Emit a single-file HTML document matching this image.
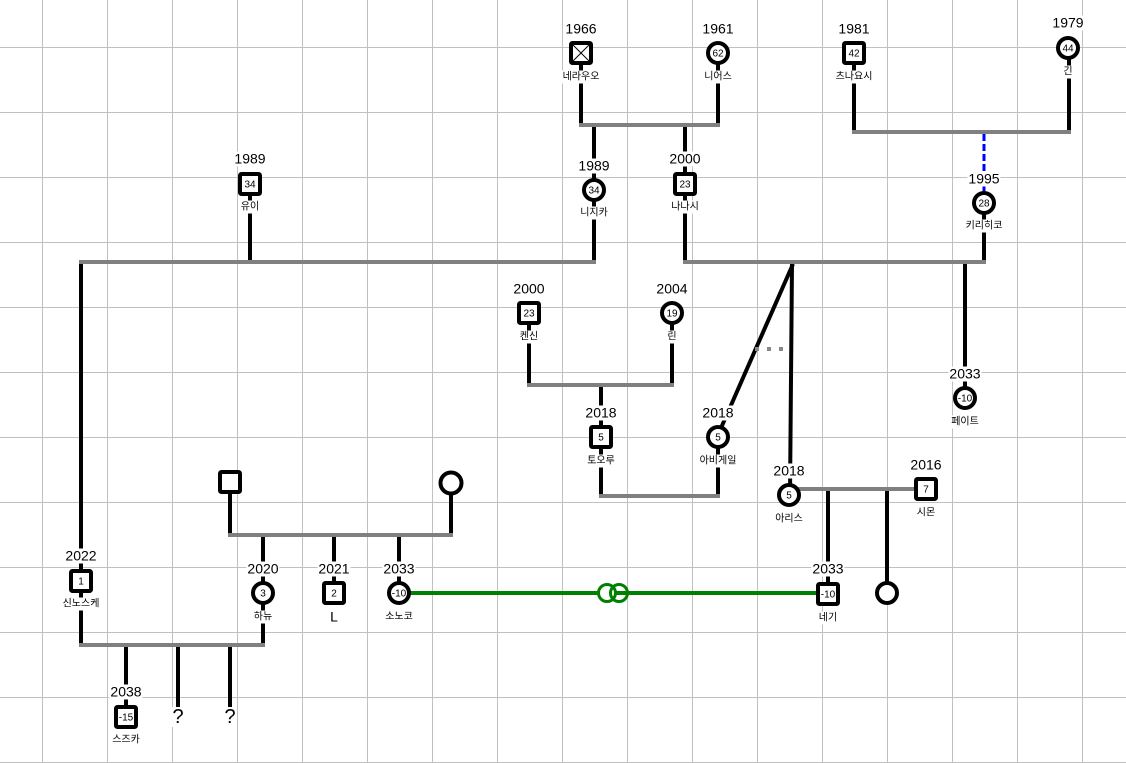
<!DOCTYPE html>
<html><head><meta charset="utf-8">
<style>
html,body{margin:0;padding:0}
body{width:1126px;height:763px;overflow:hidden;background:#fff;position:relative;font-family:"Liberation Sans","Noto Sans CJK KR",sans-serif;color:#000}
svg{position:absolute;left:0;top:0}
.y{position:absolute;font-size:14px;line-height:15px;background:#fff;transform:translate(-50%,-50%);padding:0 1px;white-space:nowrap}
.n{position:absolute;font-size:10px;line-height:13px;background:#fff;transform:translate(-50%,-50%);padding:0 1px;white-space:nowrap;font-family:"Liberation Sans","Noto Sans CJK KR",sans-serif}
.q{position:absolute;font-size:20px;line-height:20px;background:#fff;transform:translate(-50%,-50%);padding:0 1px}
</style></head><body>
<svg width="1126" height="763" viewBox="0 0 1126 763">
<g stroke="#c0c0c0" stroke-width="1">
<line x1="42.5" y1="0" x2="42.5" y2="763"/><line x1="107.5" y1="0" x2="107.5" y2="763"/><line x1="172.5" y1="0" x2="172.5" y2="763"/><line x1="237.5" y1="0" x2="237.5" y2="763"/><line x1="302.5" y1="0" x2="302.5" y2="763"/><line x1="367.5" y1="0" x2="367.5" y2="763"/><line x1="432.5" y1="0" x2="432.5" y2="763"/><line x1="497.5" y1="0" x2="497.5" y2="763"/><line x1="562.5" y1="0" x2="562.5" y2="763"/><line x1="627.5" y1="0" x2="627.5" y2="763"/><line x1="692.5" y1="0" x2="692.5" y2="763"/><line x1="757.5" y1="0" x2="757.5" y2="763"/><line x1="822.5" y1="0" x2="822.5" y2="763"/><line x1="887.5" y1="0" x2="887.5" y2="763"/><line x1="952.5" y1="0" x2="952.5" y2="763"/><line x1="1017.5" y1="0" x2="1017.5" y2="763"/><line x1="1082.5" y1="0" x2="1082.5" y2="763"/>
<line x1="0" y1="47.5" x2="1126" y2="47.5"/><line x1="0" y1="112.5" x2="1126" y2="112.5"/><line x1="0" y1="177.5" x2="1126" y2="177.5"/><line x1="0" y1="242.5" x2="1126" y2="242.5"/><line x1="0" y1="307.5" x2="1126" y2="307.5"/><line x1="0" y1="372.5" x2="1126" y2="372.5"/><line x1="0" y1="437.5" x2="1126" y2="437.5"/><line x1="0" y1="502.5" x2="1126" y2="502.5"/><line x1="0" y1="567.5" x2="1126" y2="567.5"/><line x1="0" y1="632.5" x2="1126" y2="632.5"/><line x1="0" y1="697.5" x2="1126" y2="697.5"/><line x1="0" y1="762.5" x2="1126" y2="762.5"/>
</g>
<!-- black lines -->
<g stroke="#000" stroke-width="4" fill="none">
<line x1="581" y1="53" x2="581" y2="126"/><line x1="718" y1="53" x2="718" y2="126"/>
<line x1="594" y1="125" x2="594" y2="262"/><line x1="685" y1="125" x2="685" y2="262"/>
<line x1="854" y1="53" x2="854" y2="132"/><line x1="1069" y1="48" x2="1069" y2="132"/>
<line x1="250" y1="184" x2="250" y2="262"/>
<line x1="984" y1="203" x2="984" y2="262"/>
<line x1="81" y1="262" x2="81" y2="645"/>
<line x1="965" y1="262" x2="965" y2="398"/>
<line x1="793" y1="264" x2="721" y2="428"/>
<line x1="792" y1="263" x2="790" y2="495"/>
<line x1="529" y1="313" x2="529" y2="385"/><line x1="672" y1="313" x2="672" y2="385"/>
<line x1="601" y1="385" x2="601" y2="496"/><line x1="718" y1="437" x2="718" y2="496"/>
<line x1="828" y1="489" x2="828" y2="594"/><line x1="887" y1="489" x2="887" y2="593"/>
<line x1="230" y1="482" x2="230" y2="535"/><line x1="451" y1="483" x2="451" y2="535"/>
<line x1="263" y1="535" x2="263" y2="645"/><line x1="334" y1="535" x2="334" y2="593"/><line x1="399" y1="535" x2="399" y2="593"/>
<line x1="126" y1="645" x2="126" y2="717"/><line x1="178" y1="645" x2="178" y2="710"/><line x1="230" y1="645" x2="230" y2="710"/>
</g>
<!-- blue dashed -->
<line x1="984" y1="134" x2="984" y2="195" stroke="#0000ff" stroke-width="3" stroke-dasharray="7 3"/>
<!-- gray couple lines -->
<g stroke="#808080" stroke-width="4">
<line x1="579" y1="125" x2="720" y2="125"/>
<line x1="852" y1="132" x2="1071" y2="132"/>
<line x1="79" y1="262" x2="596" y2="262"/>
<line x1="683" y1="262" x2="986" y2="262"/>
<line x1="527" y1="385" x2="674" y2="385"/>
<line x1="599" y1="496" x2="720" y2="496"/>
<line x1="789" y1="489" x2="926" y2="489"/>
<line x1="228" y1="535" x2="453" y2="535"/>
<line x1="79" y1="645" x2="265" y2="645"/>
</g>
<g fill="#888"><rect x="755" y="347" width="4" height="4"/><rect x="767" y="347" width="4" height="4"/><rect x="779" y="347" width="4" height="4"/></g>
<!-- green -->
<line x1="399" y1="593" x2="828" y2="593" stroke="#008000" stroke-width="4"/>
<circle cx="607" cy="593" r="8.5" fill="#fff" stroke="#008000" stroke-width="3"/>
<circle cx="619" cy="593" r="8.5" fill="none" stroke="#008000" stroke-width="3"/>
<!-- nodes -->
<g stroke="#000" stroke-width="4" fill="#fff">
<rect x="571" y="43" width="20" height="20" rx="1.5"/>
<circle cx="718" cy="53" r="10"/>
<rect x="844" y="43" width="20" height="20" rx="1.5"/>
<circle cx="1068" cy="48" r="10"/>
<rect x="240" y="174" width="20" height="20" rx="1.5"/>
<circle cx="594" cy="190" r="10"/>
<rect x="675" y="174" width="20" height="20" rx="1.5"/>
<circle cx="984" cy="203" r="10"/>
<rect x="519" y="303" width="20" height="20" rx="1.5"/>
<circle cx="672" cy="313" r="10"/>
<circle cx="965" cy="398" r="10"/>
<rect x="591" y="427" width="20" height="20" rx="1.5"/>
<circle cx="718" cy="437" r="10"/>
<circle cx="789" cy="495" r="10"/>
<rect x="916" y="479" width="20" height="20" rx="1.5"/>
<rect x="220" y="472" width="20" height="20" rx="1.5"/>
<circle cx="451" cy="483" r="10.5"/>
<rect x="71" y="571" width="20" height="20" rx="1.5"/>
<circle cx="263" cy="593" r="10"/>
<rect x="324" y="583" width="20" height="20" rx="1.5"/>
<circle cx="399" cy="593" r="10"/>
<rect x="818" y="584" width="20" height="20" rx="1.5"/>
<circle cx="887" cy="593" r="10"/>
<rect x="116" y="707" width="20" height="20" rx="1.5"/>
</g>
<g stroke="#000" stroke-width="1"><line x1="573" y1="45" x2="589" y2="61"/><line x1="589" y1="45" x2="573" y2="61"/></g>
<g font-family="Liberation Sans, sans-serif" font-size="10" text-anchor="middle" fill="#000">
<text x="718" y="56.5">62</text>
<text x="854" y="56.5">42</text>
<text x="1068" y="51.5">44</text>
<text x="250" y="187.5">34</text>
<text x="594" y="193.5">34</text>
<text x="685" y="187.5">23</text>
<text x="984" y="206.5">28</text>
<text x="529" y="316.5">23</text>
<text x="672" y="316.5">19</text>
<text x="965" y="401.5">-10</text>
<text x="601" y="440.5">5</text>
<text x="718" y="440.5">5</text>
<text x="789" y="498.5">5</text>
<text x="926" y="492.5">7</text>
<text x="81" y="584.5">1</text>
<text x="263" y="596.5">3</text>
<text x="334" y="596.5">2</text>
<text x="399" y="596.5">-10</text>
<text x="828" y="597.5">-10</text>
<text x="126" y="720.5">-15</text>
</g>
</svg>

<div class="y" style="left:581px;top:29px">1966</div><div class="n" style="left:581px;top:77px">네라우오</div>
<div class="y" style="left:718px;top:29px">1961</div><div class="n" style="left:718px;top:77px">니어스</div>
<div class="y" style="left:854px;top:29px">1981</div><div class="n" style="left:854px;top:77px">츠나요시</div>
<div class="y" style="left:1068px;top:23px">1979</div><div class="n" style="left:1068px;top:72px">긴</div>
<div class="y" style="left:250px;top:159px">1989</div><div class="n" style="left:250px;top:207px">유이</div>
<div class="y" style="left:594px;top:166px">1989</div><div class="n" style="left:594px;top:213px">니지카</div>
<div class="y" style="left:685px;top:159px">2000</div><div class="n" style="left:685px;top:207px">나나시</div>
<div class="y" style="left:984px;top:179px">1995</div><div class="n" style="left:984px;top:226px">키리히코</div>
<div class="y" style="left:529px;top:289px">2000</div><div class="n" style="left:529px;top:337px">켄신</div>
<div class="y" style="left:672px;top:289px">2004</div><div class="n" style="left:672px;top:337px">린</div>
<div class="y" style="left:965px;top:374px">2033</div><div class="n" style="left:965px;top:422px">페이트</div>
<div class="y" style="left:601px;top:413px">2018</div><div class="n" style="left:601px;top:461px">토오루</div>
<div class="y" style="left:718px;top:413px">2018</div><div class="n" style="left:718px;top:461px">아비게일</div>
<div class="y" style="left:789px;top:471px">2018</div><div class="n" style="left:789px;top:519px">아리스</div>
<div class="y" style="left:926px;top:465px">2016</div><div class="n" style="left:926px;top:513px">시몬</div>
<div class="y" style="left:81px;top:556px">2022</div><div class="n" style="left:81px;top:604px">신노스케</div>
<div class="y" style="left:263px;top:569px">2020</div><div class="n" style="left:263px;top:617px">하뉴</div>
<div class="y" style="left:334px;top:569px">2021</div><div class="y" style="left:334px;top:617px">L</div>
<div class="y" style="left:399px;top:569px">2033</div><div class="n" style="left:399px;top:617px">소노코</div>
<div class="y" style="left:828px;top:569px">2033</div><div class="n" style="left:828px;top:618px">네기</div>
<div class="y" style="left:126px;top:692px">2038</div><div class="n" style="left:126px;top:740px">스즈카</div>
<div class="q" style="left:178px;top:717px">?</div>
<div class="q" style="left:230px;top:717px">?</div>
</body></html>
